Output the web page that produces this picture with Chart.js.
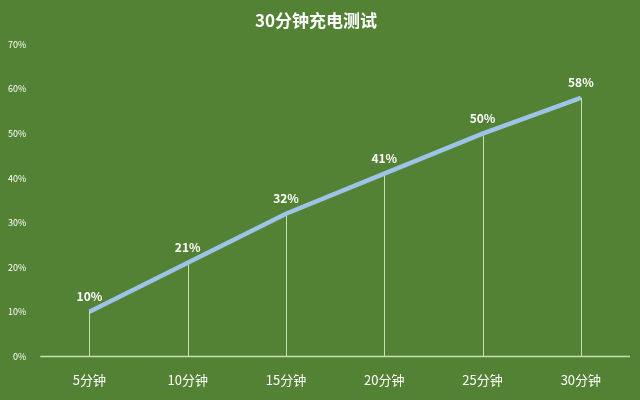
<!DOCTYPE html>
<html><head><meta charset="utf-8">
<script src="https://cdn.jsdelivr.net/npm/chart.js@4"></script>
<style>html,body{margin:0;background:#548235;}</style>
</head><body><canvas id="c" width="640" height="400"></canvas>
<script>
const categories = ["5分钟","10分钟","15分钟","20分钟","25分钟","30分钟"];
const values = [10,21,32,41,50,58];
const yTicks = [0,10,20,30,40,50,60,70];
const F = '"Noto Sans CJK SC","Noto Sans",sans-serif';
const extras = {
  id:'extras',
  beforeDatasetsDraw(ch){
    const c=ch.ctx, x=ch.scales.x, y=ch.scales.y;
    c.save(); c.strokeStyle='#c5e0b4'; c.lineWidth=1;
    values.forEach((v,i)=>{const px=Math.round(x.getPixelForValue(i))+0.5;c.beginPath();c.moveTo(px,y.getPixelForValue(v));c.lineTo(px,y.getPixelForValue(0));c.stroke();});
    c.lineWidth=1.5; c.beginPath(); c.moveTo(ch.chartArea.left,y.getPixelForValue(0)); c.lineTo(ch.chartArea.right,y.getPixelForValue(0)); c.stroke();
    c.restore();
  },
  afterDatasetsDraw(ch){
    const c=ch.ctx, meta=ch.getDatasetMeta(0);
    c.save(); c.fillStyle='#ffffff'; c.font='bold 12px '+F; c.textAlign='center'; c.textBaseline='bottom';
    meta.data.forEach((p,i)=>c.fillText(values[i]+'%',p.x,p.y-9));
    c.restore();
  }
};
new Chart(document.getElementById('c'),{
  type:'line',
  data:{labels:categories,datasets:[
    {data:values,borderColor:'#9dc3e6',borderWidth:4.5,pointRadius:0,tension:0},
    {data:values,borderColor:'#ffffff',borderWidth:2,pointRadius:0,tension:0}
  ]},
  options:{responsive:false,animation:false,devicePixelRatio:1,
    layout:{padding:{left:2,right:10,top:0,bottom:4}},
    plugins:{legend:{display:false},tooltip:{enabled:false},
      title:{display:true,text:'30分钟充电测试',color:'#ffffff',font:{family:F,size:17,weight:'bold'},padding:{top:10,bottom:14}}},
    scales:{
      x:{offset:true,grid:{display:false},border:{display:false},ticks:{color:'#ffffff',font:{family:F,size:13},padding:8,maxRotation:0,autoSkip:false}},
      y:{min:0,max:70,afterBuildTicks(a){a.ticks=yTicks.map(v=>({value:v}));},grid:{display:false},border:{display:false},
        ticks:{color:'#ffffff',font:{family:F,size:9},callback:v=>v+'%',padding:6,autoSkip:false}}
    }
  },
  plugins:[extras]
});
</script></body></html>
